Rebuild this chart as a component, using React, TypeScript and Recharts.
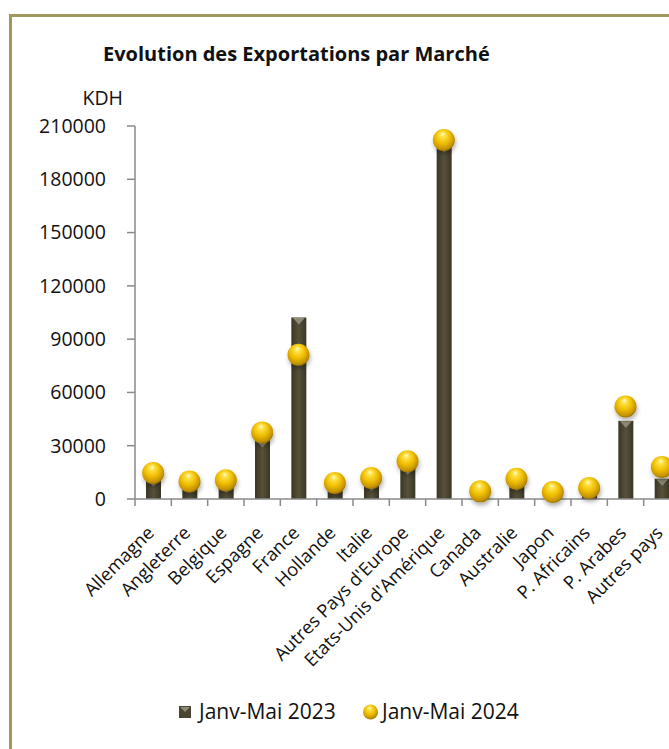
import React from "react";
import { ComposedChart, Bar, Line, XAxis, YAxis } from "recharts";

const categories = [
  "Allemagne",
  "Angleterre",
  "Belgique",
  "Espagne",
  "France",
  "Hollande",
  "Italie",
  "Autres Pays d'Europe",
  "Etats-Unis d'Amérique",
  "Canada",
  "Australie",
  "Japon",
  "P. Africains",
  "P. Arabes",
  "Autres pays",
];
const values2023 = [11000, 7500, 7000, 33000, 102200, 6500, 8500, 17500, 199000, 2000, 8500, 1500, 3000, 44000, 11400];
const values2024 = [14600, 9900, 10500, 37500, 81200, 9000, 11800, 21200, 202100, 4300, 11400, 3900, 6200, 52100, 18000];
const yTicks = [0, 30000, 60000, 90000, 120000, 150000, 180000, 210000];
const seriesNames = ["Janv-Mai 2023", "Janv-Mai 2024"];
const title = "Evolution des Exportations par Marché";
const unitLabel = "KDH";

const data = categories.map((c, i) => ({ name: c, v2023: values2023[i], v2024: values2024[i] }));

const FONT = "'Open Sans', sans-serif";
const CW = 700;
const CH = 749;
const MARGIN = { top: 126, right: 20, bottom: 190, left: 0 };
const YW = 135;
const BAND = (CW - MARGIN.left - MARGIN.right - YW) / categories.length;

const XTick = (props: any) => {
  const { x, y, payload, index } = props;
  const lx = x + 2;
  const ly = y + 35;
  return (
    <g>
      <line x1={x - BAND / 2} y1={y} x2={x - BAND / 2} y2={y + 7} stroke="#8a8a8a" strokeWidth={1.5} />
      {index === categories.length - 1 && (
        <line x1={x + BAND / 2} y1={y} x2={x + BAND / 2} y2={y + 7} stroke="#8a8a8a" strokeWidth={1.5} />
      )}
      <text
        x={lx}
        y={ly}
        textAnchor="end"
        transform={`rotate(-45, ${lx}, ${ly})`}
        fontFamily={FONT}
        fontSize={18.3}
        fill="#111"
      >
        {payload.value}
      </text>
    </g>
  );
};

const BarShape = (props: any) => {
  const { x, y, width, height } = props;
  if (!height || height <= 0) return null;
  const t = Math.min(7, height / 2);
  return (
    <g>
      <rect x={x} y={y} width={width} height={height} fill="url(#barGrad)" />
      <polygon
        points={`${x + 1.5},${y + 0.5} ${x + width - 1.5},${y + 0.5} ${x + width / 2},${y + t}`}
        fill="#8e8a74"
      />
    </g>
  );
};

const Ball = (props: any) => {
  const { cx, cy } = props;
  if (cx == null || cy == null) return null;
  return <circle cx={cx} cy={cy} r={11} fill="url(#ballGrad)" filter="url(#ballShadow)" />;
};

export default function App() {
  return (
    <div
      style={{
        position: "fixed",
        left: 0,
        top: 0,
        width: 669,
        height: 749,
        overflow: "hidden",
        background: "#fff",
      }}
    >
      <svg width={0} height={0} style={{ position: "absolute" }}>
        <defs>
          <linearGradient id="barGrad" x1="0" y1="0" x2="1" y2="0">
            <stop offset="0" stopColor="#3a3625" />
            <stop offset="0.5" stopColor="#57513a" />
            <stop offset="1" stopColor="#3a3625" />
          </linearGradient>
          <radialGradient id="ballGrad" cx="0.45" cy="0.42" r="0.62" fx="0.45" fy="0.22">
            <stop offset="0" stopColor="#fffbd6" />
            <stop offset="0.2" stopColor="#ffe040" />
            <stop offset="0.55" stopColor="#eebc00" />
            <stop offset="0.85" stopColor="#c39200" />
            <stop offset="1" stopColor="#876500" />
          </radialGradient>
          <filter id="ballShadow" x="-60%" y="-60%" width="220%" height="220%">
            <feDropShadow dx="1" dy="3" stdDeviation="2" floodColor="#000" floodOpacity="0.3" />
          </filter>
        </defs>
      </svg>
      <div
        style={{
          position: "absolute",
          left: 9,
          top: 14,
          width: 720,
          height: 800,
          border: "3px solid #a0975f",
          boxSizing: "border-box",
        }}
      />
      <div style={{ position: "absolute", left: 0, top: 0 }}>
        <ComposedChart width={CW} height={CH} data={data} margin={MARGIN}>
          <XAxis
            dataKey="name"
            interval={0}
            height={60}
            tickSize={0}
            tickMargin={0}
            tickLine={false}
            axisLine={{ stroke: "#8a8a8a", strokeWidth: 1.5 }}
            tick={<XTick />}
          />
          <YAxis
            width={YW}
            domain={[0, 210000]}
            ticks={yTicks}
            interval={0}
            tickSize={8}
            tickMargin={21}
            axisLine={{ stroke: "#8a8a8a", strokeWidth: 1.5 }}
            tickLine={{ stroke: "#8a8a8a", strokeWidth: 1.5 }}
            tick={{ fontFamily: FONT, fontSize: 19.5, fill: "#111" }}
          />
          <Bar
            dataKey="v2023"
            name={seriesNames[0]}
            barSize={15}
            isAnimationActive={false}
            shape={(p: any) => <BarShape {...p} />}
          />
          <Line
            dataKey="v2024"
            name={seriesNames[1]}
            stroke="none"
            activeDot={false}
            isAnimationActive={false}
            dot={(p: any) => <Ball key={`b-${p.index}`} {...p} />}
          />
        </ComposedChart>
      </div>
      <svg width={669} height={749} style={{ position: "absolute", left: 0, top: 0, pointerEvents: "none" }}>
        <text x={103} y={61} fontFamily={FONT} fontSize={20} fontWeight={700} fill="#111">
          {title}
        </text>
        <text x={123} y={105} textAnchor="end" fontFamily={FONT} fontSize={19.5} fill="#111">
          {unitLabel}
        </text>
        <g>
          <rect x={179} y={706} width={12} height={12} fill="#4a4530" />
          <polygon points="180,707 190,707 185,712" fill="#8e8a74" />
          <text x={199} y={719} fontFamily={FONT} fontSize={21} fill="#111">
            {seriesNames[0]}
          </text>
          <circle cx={370.5} cy={712} r={7.5} fill="url(#ballGrad)" />
          <text x={382} y={719} fontFamily={FONT} fontSize={21} fill="#111">
            {seriesNames[1]}
          </text>
        </g>
      </svg>
    </div>
  );
}
